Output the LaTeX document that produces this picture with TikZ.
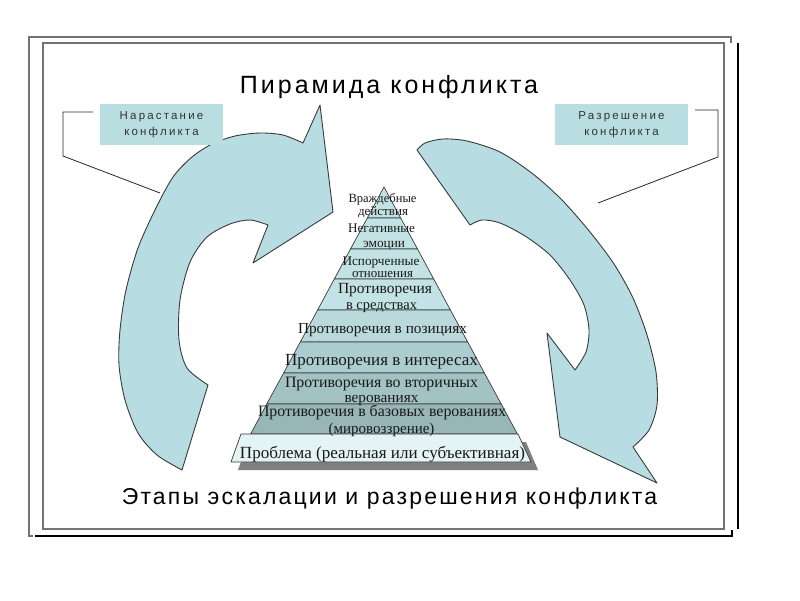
\documentclass[tikz,border=0pt]{standalone}
\usepackage{fontspec}
\setmainfont{Liberation Serif}
\newfontfamily\titlef[LetterSpace=12]{Liberation Sans}
\newfontfamily\subf[LetterSpace=9.5]{Liberation Sans}
\newfontfamily\lblf[LetterSpace=19]{Liberation Sans}
\usetikzlibrary{calc}
\definecolor{arrowfill}{HTML}{B7DDE2}
\definecolor{boxfill}{HTML}{B9DEE2}
\definecolor{edgec}{HTML}{3A3A3A}
\definecolor{layA}{HTML}{C3E2E5}
\definecolor{layB}{HTML}{B9D9DC}
\definecolor{layC}{HTML}{ABCDD0}
\definecolor{layD}{HTML}{A3C2C3}
\definecolor{layE}{HTML}{99B6B7}
\definecolor{layF}{HTML}{E4F3F4}
\newcommand\fitw[2]{\resizebox{#1pt}{!}{#2}}
\begin{document}
\begin{tikzpicture}[x=1pt,y=-1pt,
  bigarrow/.style={fill=arrowfill, draw=edgec, line width=0.9pt, line join=round},
  layer/.style={draw=edgec, line width=0.7pt, line join=round},
  ptext/.style={inner sep=0pt, anchor=base, text=black!90, font=\fontsize{12}{14}\selectfont},
  lbl/.style={fill=boxfill, minimum width=123pt, minimum height=41pt, inner sep=0pt, align=center, text=black!80, font=\lblf\fontsize{11.5}{17}\selectfont},
  conn/.style={draw=black!85, line width=0.8pt},
  frameg/.style={draw=black!55, line width=1.3pt},
  frameb/.style={draw=black, line width=1.8pt}]
\useasboundingbox (0,0) rectangle (800,600);
\fill[white] (0,0) rectangle (800,600);

% frame
\draw[frameg] (33,536) -- (29,536) -- (29,37) -- (731,37) -- (731,43);
\draw[frameb] (35,536) -- (732,536) -- (732,530);
\draw[frameg] (43,43) rectangle (724,529);
\draw[frameb] (738,43) -- (738,529);

% left arrow (escalation)
\draw[bigarrow] (182,470) -- plot[smooth] coordinates {(182,470) (157,455) (138,433) (125,400) (119,365) (120,330) (126,290) (138,248) (155,210) (173,177) (192,157) (212,144) (235,136) (260,133) (283,135) (303,143)}
  -- (320,105) -- (333,212) -- (253,263) -- (268,225)
  -- plot[smooth] coordinates {(268,225) (250,220) (230,224) (207,237) (190,262) (180,300) (179,340) (187,368) (208,385)} -- cycle;

% right arrow (resolution)
\draw[bigarrow] (417,150) -- plot[smooth] coordinates {(417,150) (425,143) (443,139) (467,141) (500,152) (533,174) (562,200) (590,232) (614,264) (633,298) (647,335) (656,372) (657,405) (649,430) (633,447)}
  -- (657,483) -- (560,437) -- (547,333) -- (575,370)
  -- plot[smooth] coordinates {(575,370) (586,352) (589,330) (584,305) (570,280) (550,255) (525,236) (500,223) (482,220) (470,225)} -- cycle;

% pyramid
\fill[black!50] (248,442) -- (526,442) -- (538,470) -- (238,470) -- cycle;
\draw[layer, fill=layA] (384,187) -- (400.7,218) -- (367.3,218) -- cycle;
\draw[layer, fill=layA] (367.3,218) -- (400.7,218) -- (417.5,249) -- (350.5,249) -- cycle;
\draw[layer, fill=layA] (350.5,249) -- (417.5,249) -- (433.7,279) -- (334.3,279) -- cycle;
\draw[layer, fill=layA] (334.3,279) -- (433.7,279) -- (450.4,310) -- (317.6,310) -- cycle;
\draw[layer, fill=layB] (317.6,310) -- (450.4,310) -- (467.7,342) -- (300.3,342) -- cycle;
\draw[layer, fill=layC] (300.3,342) -- (467.7,342) -- (484.4,373) -- (283.6,373) -- cycle;
\draw[layer, fill=layD] (283.6,373) -- (484.4,373) -- (501.2,404) -- (266.8,404) -- cycle;
\draw[layer, fill=layE] (266.8,404) -- (501.2,404) -- (517.4,434) -- (250.6,434) -- cycle;
\draw[layer, fill=layF] (241,434) -- (518,434) -- (531,462) -- (231,462) -- cycle;

\node[ptext] (t1a) at (382.5,202) {\fitw{68}{Враждебные}};
\node[ptext] (t1b) at (383,215) {\fitw{50}{действия}};
\node[ptext] (t2a) at (381.5,232) {\fitw{67}{Негативные}};
\node[ptext] (t2b) at (384,247) {\fitw{42}{эмоции}};
\node[ptext] (t3a) at (381,265) {\fitw{77}{Испорченные}};
\node[ptext] (t3b) at (382.5,277) {\fitw{61}{отношения}};
\node[ptext] (t4a) at (385,293) {\fitw{94}{Противоречия}};
\node[ptext] (t4b) at (381.5,309) {\fitw{71}{в средствах}};
\node[ptext] (t5) at (382.5,333) {\fitw{169}{Противоречия в позициях}};
\node[ptext] (t6) at (381.5,365) {\fitw{193}{Противоречия в интересах}};
\node[ptext] (t7a) at (381.5,387) {\fitw{193}{Противоречия во вторичных}};
\node[ptext] (t7b) at (381.5,402) {\fitw{74}{верованиях}};
\node[ptext] (t8a) at (382,416.5) {\fitw{248}{Противоречия в базовых верованиях}};
\node[ptext] (t8b) at (381.5,433) {\fitw{106}{(мировоззрение)}};
\node[ptext] (t9) at (382.5,458) {\fitw{285}{Проблема (реальная или субъективная)}};

% titles
\node[anchor=base, inner sep=0pt, font=\titlef\fontsize{25}{30}\selectfont] (title) at (389,93) {Пирамида конфликта};
\node[anchor=base, inner sep=0pt, font=\subf\fontsize{23}{28}\selectfont] (subtitle) at (389.5,504) {Этапы эскалации и разрешения конфликта};

% label boxes
\node[lbl] (lbox) at (161.5,124.5) {\raisebox{-1pt}{Нарастание}\\конфликта};
\node[lbl, minimum width=133pt] (rbox) at (621.5,124.5) {\raisebox{-1pt}{Разрешение}\\конфликта};

% connectors
\coordinate (lc1) at (93,112);
\coordinate (lc2) at (63,112);
\coordinate (lc3) at (63,156);
\coordinate (lc4) at (160,193);
\draw[conn] (lc1) -- (lc2) -- (lc3) -- (lc4);
\coordinate (rc1) at (695,110);
\coordinate (rc2) at (718,110);
\coordinate (rc3) at (718,157);
\coordinate (rc4) at (598,203);
\draw[conn] (rc1) -- (rc2) -- (rc3) -- (rc4);
\end{tikzpicture}
\end{document}
